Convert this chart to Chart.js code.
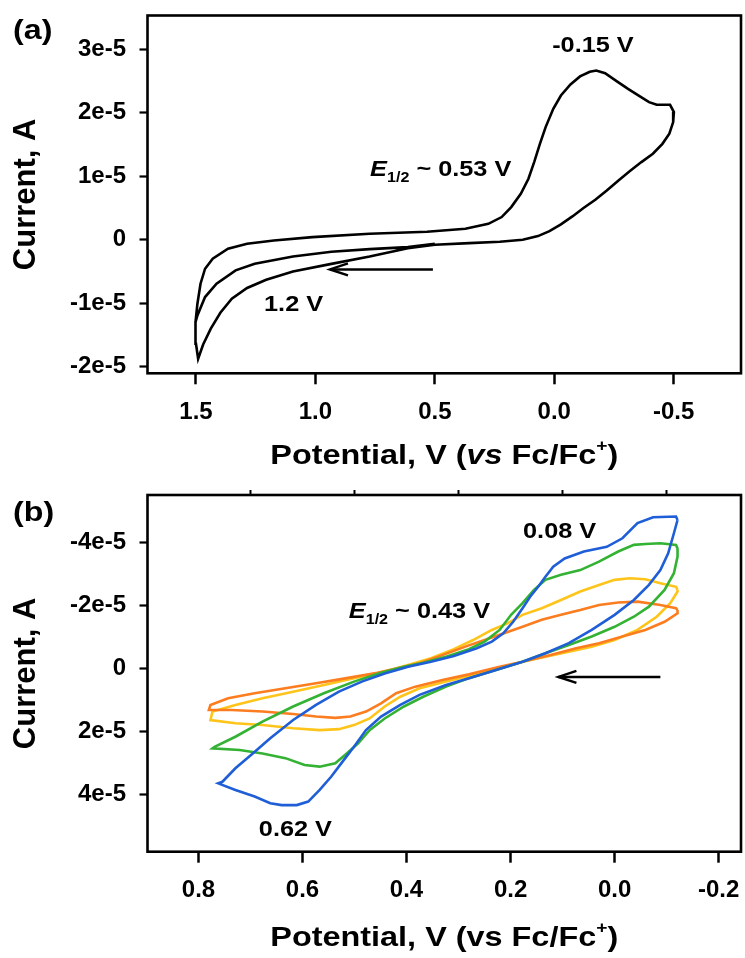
<!DOCTYPE html>
<html>
<head>
<meta charset="utf-8">
<script src="https://cdn.jsdelivr.net/npm/chart.js@4.4.1/dist/chart.umd.min.js"></script>
<style>
  html, body { margin: 0; padding: 0; background: #fff; }
  #wrap { position: relative; width: 745px; height: 958px; }
  .panel { position: absolute; left: 0; width: 745px; }
  #panelA { top: 0; height: 480px; }
  #panelB { top: 480px; height: 478px; }
</style>
</head>
<body>
<div id="wrap">
  <div class="panel" id="panelA"><canvas id="chartA"></canvas></div>
  <div class="panel" id="panelB"><canvas id="chartB"></canvas></div>
</div>
<script>
// ---- panel (a): single CV, potential (V vs Fc/Fc+) and current (A) ----
const potA = [0.500, 0.613, 0.773, 0.933, 1.094, 1.254, 1.334, 1.414, 1.462, 1.494,
  1.502, 1.494, 1.481, 1.462, 1.430, 1.366, 1.286, 1.174, 1.013, 0.773,
  0.533, 0.372, 0.276, 0.220, 0.180, 0.140, 0.108, 0.084, 0.060, 0.036,
  0.004, -0.028, -0.068, -0.108, -0.149, -0.176, -0.213, -0.261, -0.309, -0.357,
  -0.397, -0.429, -0.485, -0.501, -0.498, -0.482, -0.453, -0.413, -0.365, -0.317,
  -0.269, -0.220, -0.172, -0.124, -0.076, -0.028, 0.020, 0.068, 0.132, 0.228,
  0.356, 0.500, 0.613, 0.773, 0.933, 1.094, 1.206, 1.286, 1.350, 1.398,
  1.438, 1.470, 1.491, 1.500, 1.502, 1.502];
const curA = [-0.064e-5, -0.116e-5, -0.148e-5, -0.190e-5, -0.263e-5, -0.379e-5, -0.483e-5, -0.693e-5, -0.903e-5, -1.192e-5,
  -1.297e-5, -1.008e-5, -0.693e-5, -0.457e-5, -0.300e-5, -0.142e-5, -0.063e-5, -0.011e-5, 0.041e-5, 0.094e-5,
  0.125e-5, 0.173e-5, 0.251e-5, 0.357e-5, 0.514e-5, 0.724e-5, 0.960e-5, 1.223e-5, 1.511e-5, 1.774e-5,
  2.062e-5, 2.272e-5, 2.446e-5, 2.572e-5, 2.645e-5, 2.666e-5, 2.624e-5, 2.498e-5, 2.377e-5, 2.262e-5,
  2.167e-5, 2.125e-5, 2.125e-5, 2.010e-5, 1.852e-5, 1.669e-5, 1.511e-5, 1.354e-5, 1.223e-5, 1.081e-5,
  0.934e-5, 0.776e-5, 0.629e-5, 0.503e-5, 0.367e-5, 0.241e-5, 0.136e-5, 0.057e-5, 0.000, -0.032e-5,
  -0.053e-5, -0.079e-5, -0.135e-5, -0.265e-5, -0.380e-5, -0.500e-5, -0.630e-5, -0.760e-5, -0.930e-5, -1.150e-5,
  -1.400e-5, -1.650e-5, -1.875e-5, -1.638e-5, -1.428e-5, -1.297e-5];
const xTicksA = [1.5, 1.0, 0.5, 0.0, -0.5];
const xLabelsA = ['1.5', '1.0', '0.5', '0.0', '-0.5'];
const yTicksA = [3e-5, 2e-5, 1e-5, 0, -1e-5, -2e-5];
const yLabelsA = ['3e-5', '2e-5', '1e-5', '0', '-1e-5', '-2e-5'];

// ---- panel (b): four CVs ----
const potBlue = [-0.121, -0.118, -0.074, -0.044, -0.015, 0.015, 0.059, 0.096, 0.118, 0.133,
  0.147, 0.162, 0.177, 0.195, 0.214, 0.236, 0.265, 0.309, 0.353, 0.397,
  0.442, 0.486, 0.530, 0.574, 0.618, 0.662, 0.699, 0.729, 0.754, 0.762,
  0.729, 0.692, 0.662, 0.640, 0.611, 0.589, 0.567, 0.545, 0.523, 0.501,
  0.478, 0.449, 0.412, 0.375, 0.324, 0.280, 0.228, 0.177, 0.133, 0.088,
  0.044, 0.000, -0.037, -0.066, -0.088, -0.103, -0.114, -0.121];
const curBlue = [-4.72e-5, -4.83e-5, -4.81e-5, -4.62e-5, -4.14e-5, -3.87e-5, -3.72e-5, -3.50e-5, -3.24e-5, -2.92e-5,
  -2.60e-5, -2.29e-5, -1.92e-5, -1.49e-5, -1.12e-5, -0.86e-5, -0.65e-5, -0.40e-5, -0.22e-5, -0.06e-5,
  0.15e-5, 0.41e-5, 0.73e-5, 1.15e-5, 1.63e-5, 2.21e-5, 2.74e-5, 3.16e-5, 3.59e-5, 3.64e-5,
  3.85e-5, 4.06e-5, 4.27e-5, 4.33e-5, 4.33e-5, 4.22e-5, 3.85e-5, 3.43e-5, 2.95e-5, 2.48e-5,
  1.95e-5, 1.52e-5, 1.15e-5, 0.83e-5, 0.52e-5, 0.30e-5, 0.04e-5, -0.22e-5, -0.49e-5, -0.81e-5,
  -1.23e-5, -1.71e-5, -2.18e-5, -2.66e-5, -3.13e-5, -3.66e-5, -4.30e-5, -4.72e-5];

const potGreen = [-0.121, -0.118, -0.088, -0.059, -0.037, -0.007, 0.030, 0.066, 0.103, 0.133,
  0.155, 0.177, 0.199, 0.221, 0.250, 0.280, 0.324, 0.368, 0.405, 0.449,
  0.501, 0.559, 0.618, 0.677, 0.729, 0.769, 0.773,
  0.721, 0.677, 0.633, 0.596, 0.567, 0.537, 0.515, 0.493, 0.471, 0.442,
  0.405, 0.368, 0.324, 0.280, 0.228, 0.177, 0.133, 0.088, 0.044, 0.000,
  -0.037, -0.066, -0.096, -0.114, -0.121, -0.121];
const curGreen = [-3.82e-5, -3.93e-5, -3.98e-5, -3.96e-5, -3.93e-5, -3.72e-5, -3.40e-5, -3.13e-5, -2.98e-5, -2.82e-5,
  -2.50e-5, -2.08e-5, -1.71e-5, -1.23e-5, -0.86e-5, -0.62e-5, -0.38e-5, -0.19e-5, -0.06e-5, 0.13e-5,
  0.41e-5, 0.78e-5, 1.20e-5, 1.68e-5, 2.16e-5, 2.48e-5, 2.53e-5,
  2.58e-5, 2.69e-5, 2.84e-5, 3.06e-5, 3.11e-5, 3.00e-5, 2.69e-5, 2.37e-5, 1.95e-5, 1.58e-5,
  1.20e-5, 0.89e-5, 0.57e-5, 0.30e-5, 0.04e-5, -0.22e-5, -0.49e-5, -0.75e-5, -1.02e-5, -1.33e-5,
  -1.65e-5, -1.97e-5, -2.50e-5, -3.03e-5, -3.56e-5, -3.82e-5];

const potYellow = [-0.121, -0.118, -0.088, -0.059, -0.029, 0.000, 0.030, 0.066, 0.103, 0.140,
  0.177, 0.206, 0.236, 0.272, 0.309, 0.353, 0.397, 0.442, 0.501, 0.559,
  0.618, 0.677, 0.729, 0.773, 0.777,
  0.729, 0.677, 0.618, 0.567, 0.530, 0.501, 0.471, 0.442, 0.412, 0.375,
  0.324, 0.272, 0.221, 0.177, 0.133, 0.088, 0.044, 0.000, -0.044, -0.081,
  -0.107, -0.121, -0.121];
const curYellow = [-2.50e-5, -2.60e-5, -2.71e-5, -2.84e-5, -2.87e-5, -2.82e-5, -2.66e-5, -2.45e-5, -2.18e-5, -1.92e-5,
  -1.71e-5, -1.44e-5, -1.23e-5, -0.91e-5, -0.62e-5, -0.33e-5, -0.12e-5, 0.09e-5, 0.30e-5, 0.52e-5,
  0.73e-5, 0.94e-5, 1.15e-5, 1.36e-5, 1.63e-5,
  1.73e-5, 1.79e-5, 1.89e-5, 1.95e-5, 1.92e-5, 1.79e-5, 1.58e-5, 1.20e-5, 0.89e-5, 0.62e-5,
  0.41e-5, 0.20e-5, -0.01e-5, -0.22e-5, -0.38e-5, -0.54e-5, -0.70e-5, -0.91e-5, -1.23e-5, -1.65e-5,
  -2.08e-5, -2.45e-5, -2.50e-5];

const potOrange = [-0.121, -0.118, -0.088, -0.044, -0.007, 0.030, 0.066, 0.103, 0.140, 0.177,
  0.214, 0.250, 0.287, 0.331, 0.375, 0.405, 0.456, 0.515, 0.574, 0.633,
  0.692, 0.743, 0.777, 0.780,
  0.736, 0.677, 0.618, 0.574, 0.537, 0.508, 0.478, 0.449, 0.420, 0.383,
  0.331, 0.280, 0.221, 0.177, 0.125, 0.074, 0.030, -0.015, -0.059, -0.096,
  -0.121, -0.121];
const curOrange = [-1.86e-5, -1.92e-5, -2.02e-5, -2.13e-5, -2.10e-5, -2.02e-5, -1.86e-5, -1.71e-5, -1.55e-5, -1.33e-5,
  -1.12e-5, -0.91e-5, -0.70e-5, -0.43e-5, -0.17e-5, -0.06e-5, 0.13e-5, 0.30e-5, 0.46e-5, 0.62e-5,
  0.78e-5, 0.94e-5, 1.15e-5, 1.31e-5,
  1.31e-5, 1.36e-5, 1.44e-5, 1.52e-5, 1.56e-5, 1.52e-5, 1.36e-5, 1.10e-5, 0.78e-5, 0.57e-5,
  0.36e-5, 0.18e-5, -0.06e-5, -0.22e-5, -0.43e-5, -0.65e-5, -0.81e-5, -1.02e-5, -1.23e-5, -1.49e-5,
  -1.76e-5, -1.86e-5];

const xTicksB = [0.8, 0.6, 0.4, 0.2, 0.0, -0.2];
const xLabelsB = ['0.8', '0.6', '0.4', '0.2', '0.0', '-0.2'];
const xTopTicksB = [0.7, 0.5, 0.3, 0.1, -0.1];
const yTicksB = [-4e-5, -2e-5, 0, 2e-5, 4e-5];
const yLabelsB = ['-4e-5', '-2e-5', '0', '2e-5', '4e-5'];

const FONT = '"Liberation Sans", Arial, sans-serif';
Chart.defaults.font.family = FONT;
Chart.defaults.color = '#000';

const pts = (xs, ys) => xs.map((x, i) => ({ x: x, y: ys[i] }));

function fontStr(r) {
  return (r.italic ? 'italic ' : '') + 'bold ' + r.size + 'px ' + FONT;
}

// draws a row of text pieces (for italics / sub- and superscripts), stretched a bit
function drawRuns(ctx, runs, x, y, sx, align) {
  let total = 0;
  runs.forEach(r => { ctx.font = fontStr(r); r.w = ctx.measureText(r.t).width; total += r.w; });
  ctx.save();
  ctx.translate(x, y);
  ctx.scale(sx, 1);
  ctx.fillStyle = '#000';
  ctx.textAlign = 'left';
  ctx.textBaseline = 'alphabetic';
  let cx = align === 'center' ? -total / 2 : 0;
  runs.forEach(r => { ctx.font = fontStr(r); ctx.fillText(r.t, cx, r.dy || 0); cx += r.w; });
  ctx.restore();
}

const cvDecor = {
  id: 'cvDecor',
  afterDraw(chart, args, opts) {
    const { ctx, chartArea: a, scales } = chart;
    ctx.save();
    ctx.strokeStyle = '#000';
    ctx.lineWidth = 2.6;
    ctx.strokeRect(a.left, a.top, a.right - a.left, a.bottom - a.top);

    // scan direction arrow
    const ar = opts.arrow;
    const ay = scales.y.getPixelForValue(ar.y);
    const x0 = scales.x.getPixelForValue(ar.from);
    const x1 = scales.x.getPixelForValue(ar.to);
    ctx.lineWidth = 2.5;
    ctx.beginPath(); ctx.moveTo(x0, ay); ctx.lineTo(x1, ay); ctx.stroke();
    ctx.beginPath();
    ctx.moveTo(x1 + 18, ay - 6); ctx.lineTo(x1, ay); ctx.lineTo(x1 + 18, ay + 6);
    ctx.stroke();

    opts.notes.forEach(n => {
      drawRuns(ctx, n.runs, scales.x.getPixelForValue(n.x), scales.y.getPixelForValue(n.y), 1.15, n.align);
    });
    drawRuns(ctx, opts.xTitle, (a.left + a.right) / 2, opts.xTitleY, 1.2, 'center');
    drawRuns(ctx, [{ t: opts.tag, size: 28 }], 13, opts.tagY, 1.15, 'left');
    ctx.restore();
  }
};

function xAxis(tickVals, labels, min, max, h) {
  return {
    type: 'linear', position: 'bottom', reverse: true, min: min, max: max,
    afterBuildTicks: s => { s.ticks = tickVals.map(v => ({ value: v })); },
    afterFit: s => { s.height = h; s.paddingLeft = 0; s.paddingRight = 0; },
    border: { display: false },
    grid: { drawOnChartArea: false, drawTicks: true, tickLength: 11, tickWidth: 2.5, tickColor: '#000' },
    ticks: {
      autoSkip: false, maxRotation: 0, padding: 13.5, color: '#000',
      font: { size: 24, weight: 'bold' },
      callback: (v, i) => labels[i]
    }
  };
}

function yAxis(tickVals, labels, min, max, rev) {
  return {
    type: 'linear', position: 'left', reverse: rev, min: min, max: max,
    afterBuildTicks: s => { s.ticks = tickVals.map(v => ({ value: v })); },
    afterFit: s => { s.width = 147.5; s.paddingTop = 0; s.paddingBottom = 0; },
    border: { display: false },
    grid: { drawOnChartArea: false, drawTicks: true, tickLength: 8, tickWidth: 2.2, tickColor: '#000' },
    ticks: {
      autoSkip: false, padding: 13.5, color: '#000',
      font: { size: 24, weight: 'bold' },
      callback: (v, i) => labels[i]
    },
    title: {
      display: true, text: 'Current, A', color: '#000',
      font: { size: 31, weight: 'bold' },
      padding: { top: 8, bottom: 0 }
    }
  };
}

function line(label, xs, ys, color) {
  return {
    label: label, data: pts(xs, ys), showLine: true,
    borderColor: color, borderWidth: 2.6, pointRadius: 0, tension: 0, fill: false
  };
}

new Chart(document.getElementById('chartA'), {
  type: 'scatter',
  data: { datasets: [line('CV', potA, curA, '#000')] },
  options: {
    responsive: true, maintainAspectRatio: false, animation: false, events: [],
    devicePixelRatio: 1,
    layout: { padding: { top: 15.5, right: 4, bottom: 0, left: 0 } },
    scales: {
      x: xAxis(xTicksA, xLabelsA, -0.782, 1.703, 106.7),
      y: yAxis(yTicksA, yLabelsA, -2.104e-5, 3.532e-5, false)
    },
    plugins: {
      legend: { display: false }, tooltip: { enabled: false },
      cvDecor: {
        tag: '(a)', tagY: 39,
        arrow: { from: 0.508, to: 0.939, y: -0.468e-5 },
        notes: [
          { x: -0.162, y: 2.95e-5, align: 'center', runs: [{ t: '-0.15 V', size: 22 }] },
          { x: 0.771, y: 0.997e-5, runs: [{ t: 'E', size: 22, italic: true }, { t: '1/2', size: 14, dy: 6 }, { t: ' ~ 0.53 V', size: 22 }] },
          { x: 1.215, y: -1.129e-5, runs: [{ t: '1.2 V', size: 22 }] }
        ],
        xTitle: [{ t: 'Potential, V (', size: 27 }, { t: 'vs', size: 27, italic: true }, { t: ' Fc/Fc', size: 27 }, { t: '+', size: 16, dy: -13 }, { t: ')', size: 27 }],
        xTitleY: 464
      }
    }
  },
  plugins: [cvDecor]
});

const xB = xAxis(xTicksB, xLabelsB, -0.243, 0.898, 106.3);
new Chart(document.getElementById('chartB'), {
  type: 'scatter',
  data: {
    datasets: [
      line('blue', potBlue, curBlue, '#1f5ed6'),
      line('green', potGreen, curGreen, '#33b233'),
      line('orange', potOrange, curOrange, '#fb7d1f'),
      line('yellow', potYellow, curYellow, '#ffc41a')
    ]
  },
  options: {
    responsive: true, maintainAspectRatio: false, animation: false, events: [],
    devicePixelRatio: 1,
    layout: { padding: { top: 10, right: 4, bottom: 0, left: 0 } },
    scales: {
      x: xB,
      xTop: {
        type: 'linear', position: 'top', reverse: true, min: -0.243, max: 0.898,
        afterBuildTicks: s => { s.ticks = xTopTicksB.map(v => ({ value: v })); },
        afterFit: s => { s.height = 5; s.paddingLeft = 0; s.paddingRight = 0; },
        border: { display: false },
        grid: { drawOnChartArea: false, drawTicks: true, tickLength: 5, tickWidth: 2, tickColor: '#000' },
        ticks: { display: false }
      },
      y: yAxis(yTicksB, yLabelsB, -5.514e-5, 5.81e-5, true)
    },
    plugins: {
      legend: { display: false }, tooltip: { enabled: false },
      cvDecor: {
        tag: '(b)', tagY: 41,
        arrow: { from: -0.088, to: 0.108, y: 0.26e-5 },
        notes: [
          { x: 0.176, y: -4.15e-5, runs: [{ t: '0.08 V', size: 22 }] },
          { x: 0.511, y: -1.61e-5, runs: [{ t: 'E', size: 22, italic: true }, { t: '1/2', size: 14, dy: 6 }, { t: ' ~ 0.43 V', size: 22 }] },
          { x: 0.684, y: 5.32e-5, runs: [{ t: '0.62 V', size: 22 }] }
        ],
        xTitle: [{ t: 'Potential, V (vs Fc/Fc', size: 27 }, { t: '+', size: 16, dy: -13 }, { t: ')', size: 27 }],
        xTitleY: 466
      }
    }
  },
  plugins: [cvDecor]
});
</script>
</body>
</html>
